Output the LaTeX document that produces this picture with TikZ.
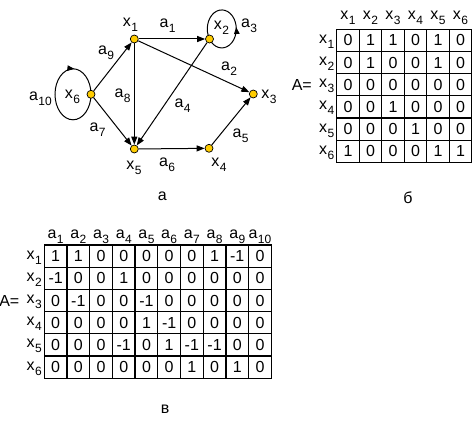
\documentclass[tikz,border=0pt]{standalone}
\usepackage{fontspec}
\setmainfont{Liberation Sans}
\usetikzlibrary{arrows.meta,decorations.markings}
\pgfdeclarelayer{background}
\pgfsetlayers{background,main}
\newcommand\subs[1]{\kern0.4pt\raisebox{-5pt}{\fontsize{12}{13}\selectfont #1}}
\newcommand\xl[1]{x\subs{#1}}
\newcommand\al[1]{a\subs{#1}}
\definecolor{dotfill}{RGB}{255,204,0}
\begin{document}
\begin{tikzpicture}[x=1pt,y=1pt,
  font=\fontsize{16}{19}\selectfont,
  dot/.style={circle,draw=black,line width=0.7pt,fill=dotfill,minimum size=8pt,inner sep=0},
  lbl/.style={anchor=base,inner sep=0},
  arr/.style={line width=1pt,-{Triangle[length=8pt,width=6pt]}},
  loopline/.style={line width=1pt,postaction={decorate}},
  cell/.style={inner sep=0},
  tbl/.style={line width=1.3pt,line cap=rect}]
\useasboundingbox (0,0) rectangle (476,-420);

% ---------- graph (a)
\node[dot] (x1) at (134.3,-39) {};
\node[dot] (x2) at (209.5,-39) {};
\node[dot] (x3) at (253.3,-94) {};
\node[dot] (x4) at (209,-148.3) {};
\node[dot] (x5) at (134.3,-149) {};
\node[dot] (x6) at (91,-94.3) {};

\begin{pgfonlayer}{background}
\draw[arr] (x1) -- (x2);
\draw[arr] (x1) -- (x3);
\draw[arr] (x2) -- (x5);
\draw[arr] (x4) -- (x3);
\draw[arr] (x5) -- (x4);
\draw[arr] (x6) -- (x5);
\draw[arr] (x1) -- (x5);
\draw[arr] (x6) -- (x1);
\draw[loopline,decoration={markings,mark=at position 0.76 with {\arrow{Triangle[length=7pt,width=5.5pt]}}}]
  (x6.center) arc[start angle=0,end angle=-360,x radius=18,y radius=25.5];
\draw[loopline,decoration={markings,mark=at position 0.42 with {\arrow{Triangle[length=7pt,width=5.5pt]}}}]
  (x2.center) arc[start angle=212,end angle=572,x radius=14.5,y radius=19];
\end{pgfonlayer}

\node[lbl] (lx1) at (130.5,-26.7) {\xl1};
\node[lbl] (la1) at (167.5,-28) {\al1};
\node[lbl] (lx2) at (221.5,-30) {\xl2};
\node[lbl] (la3) at (249,-28) {\al3};
\node[lbl] (la2) at (229,-70.7) {\al2};
\node[lbl] (lx3) at (269,-98) {\xl3};
\node[lbl] (la9) at (106,-54.7) {\al9};
\node[lbl] (la10) at (40.5,-100.7) {\al{10}};
\node[lbl] (lx6) at (72.5,-98) {\xl6};
\node[lbl] (la8) at (122.5,-97.3) {\al8};
\node[lbl] (la4) at (182.5,-107.3) {\al4};
\node[lbl] (la7) at (97.5,-131.3) {\al7};
\node[lbl] (la5) at (240.5,-137.3) {\al5};
\node[lbl] (lx5) at (134,-169.7) {\xl5};
\node[lbl] (la6) at (167,-166.7) {\al6};
\node[lbl] (lx4) at (219,-166.7) {\xl4};
\node[inner sep=0] (capa) at (162.3,-196.7) {а};

% ---------- matrix (б)
\foreach \i in {0,...,6} \draw[tbl] ({336.7+\i*22.5},-29.3) -- ({336.7+\i*22.5},-162.3);
\foreach \i in {0,...,6} \draw[tbl] (336.7,{-29.3-\i*22.17}) -- (471.7,{-29.3-\i*22.17});
\foreach \row [count=\r] in {{0,1,1,0,1,0},{0,1,0,0,1,0},{0,0,0,0,0,0},{0,0,1,0,0,0},{0,0,0,1,0,0},{1,0,0,0,1,1}}
  \foreach \v [count=\c] in \row
    \node[cell] (b\r-\c) at ({336.7+(\c-0.5)*22.5},{-29.3-(\r-0.5)*22.17}) {\v};
\foreach \c in {1,...,6}
  \node[lbl] (bh\c) at ({336.7+(\c-0.5)*22.5},-19.5) {\xl{\c}};
\foreach \r in {1,...,6}
  \node[lbl,anchor=base east] (br\r) at (334.5,{-29.3-(\r-0.5)*22.17-3}) {\xl{\r}};
\node[lbl,anchor=base east] (bA) at (312,{-29.3-2.5*22.17-5.7}) {A=};
\node[inner sep=0] (capb) at (408,-198) {б};

% ---------- matrix (в)
\foreach \i in {0,...,10} \draw[tbl] ({44.3+\i*22.7},-245) -- ({44.3+\i*22.7},-378.2);
\foreach \i in {0,...,6} \draw[tbl] (44.3,{-245-\i*22.2}) -- (271.3,{-245-\i*22.2});
\foreach \row [count=\r] in {{1,1,0,0,0,0,0,1,-1,0},{-1,0,0,1,0,0,0,0,0,0},{0,-1,0,0,-1,0,0,0,0,0},{0,0,0,0,1,-1,0,0,0,0},{0,0,0,-1,0,1,-1,-1,0,0},{0,0,0,0,0,0,1,0,1,0}}
  \foreach \v [count=\c] in \row
    \node[cell] (c\r-\c) at ({44.3+(\c-0.5)*22.7},{-245-(\r-0.5)*22.2}) {\v};
\foreach \c in {1,...,10}
  \node[lbl] (ch\c) at ({44.3+(\c-0.5)*22.7},-238) {\al{\c}};
\foreach \r in {1,...,6}
  \node[lbl,anchor=base east] (cr\r) at (42,{-245-(\r-0.5)*22.2-3}) {\xl{\r}};
\node[lbl,anchor=base east] (cA) at (19.5,{-245-2.5*22.2-5.7}) {A=};
\node[inner sep=0] (capc) at (165,-409) {в};
\end{tikzpicture}
\end{document}
